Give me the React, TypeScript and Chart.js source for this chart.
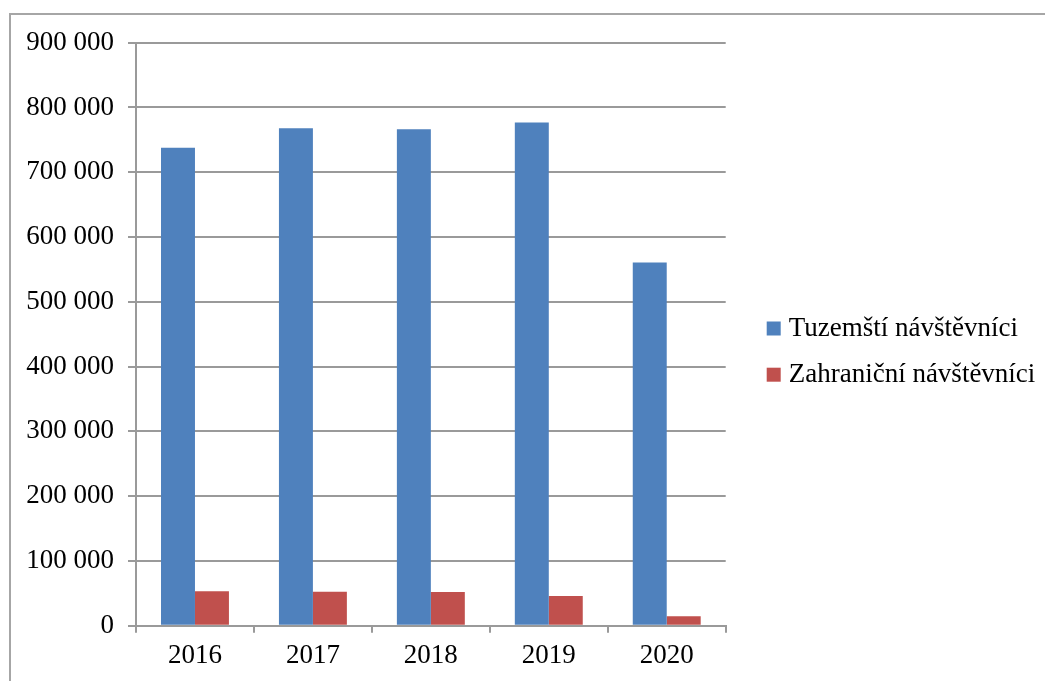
import { useEffect, useRef } from 'react';
import { Chart, registerables } from 'chart.js';

Chart.register(...registerables);

const years = ['2016', '2017', '2018', '2019', '2020'];
const domesticVisitors = [738000, 768000, 766500, 777000, 560500];
const foreignVisitors = [53000, 52500, 52000, 46000, 14500];
const seriesNames = ['Tuzemští návštěvníci', 'Zahraniční návštěvníci'];
const seriesColors = ['#4f81bd', '#c0504d'];
const yMax = 900000;
const yStep = 100000;

const FONT = '"Liberation Serif", "Times New Roman", serif';
const FONT_SIZE = 27;
const GRID = '#9a9a9a';

const fmt = (v: number) => String(v).replace(/\B(?=(\d{3})+(?!\d))/g, ' ');

const sideLegend = {
  id: 'sideLegend',
  afterDraw(chart: any) {
    const { ctx, chartArea } = chart;
    ctx.save();
    ctx.font = `${FONT_SIZE}px ${FONT}`;
    ctx.textBaseline = 'middle';
    ctx.textAlign = 'left';
    chart.data.datasets.forEach((ds: any, i: number) => {
      const cy = 328.5 + i * 46.2;
      const bx = chartArea.right + 41;
      ctx.fillStyle = ds.backgroundColor;
      ctx.fillRect(bx, cy - 7, 14, 14);
      ctx.fillStyle = '#000';
      ctx.fillText(ds.label, bx + 22, cy);
    });
    ctx.restore();
  },
};

export default function App() {
  const ref = useRef<HTMLCanvasElement | null>(null);
  useEffect(() => {
    document.body.style.margin = '0';
    const canvas = ref.current;
    if (!canvas) return;
    const chart = new Chart(canvas, {
      type: 'bar',
      data: {
        labels: years,
        datasets: [
          {
            label: seriesNames[0],
            data: domesticVisitors,
            backgroundColor: seriesColors[0],
            categoryPercentage: 0.576,
            barPercentage: 1,
          },
          {
            label: seriesNames[1],
            data: foreignVisitors,
            backgroundColor: seriesColors[1],
            categoryPercentage: 0.576,
            barPercentage: 1,
          },
        ],
      },
      options: {
        responsive: false,
        animation: false,
        devicePixelRatio: 1,
        layout: { padding: { left: 0, top: 42.7, right: 1045 - 725.7, bottom: 0 } },
        plugins: { legend: { display: false }, tooltip: { enabled: false } },
        scales: {
          x: {
            grid: {
              display: true,
              drawOnChartArea: false,
              drawTicks: true,
              tickLength: 7,
              color: GRID,
              lineWidth: 2,
              offset: true,
            },
            border: { display: true, color: GRID, width: 2 },
            ticks: { font: { family: FONT, size: FONT_SIZE }, color: '#000', padding: 7 },
            afterFit: (s: any) => {
              s.height = 681 - 625.7;
            },
          },
          y: {
            min: 0,
            max: yMax,
            ticks: {
              stepSize: yStep,
              callback: (v: any) => fmt(Number(v)),
              font: { family: FONT, size: FONT_SIZE },
              color: '#000',
              padding: 14,
            },
            grid: { color: GRID, lineWidth: 2, tickLength: 8 },
            border: { display: true, color: GRID, width: 2 },
            afterFit: (s: any) => {
              s.width = 136;
            },
          },
        },
      },
      plugins: [sideLegend],
    } as any);
    return () => chart.destroy();
  }, []);

  return (
    <div style={{ position: 'fixed', left: 0, top: 0, width: 1045, height: 681, overflow: 'hidden', background: '#fff' }}>
      <div
        style={{
          position: 'absolute',
          left: 9,
          top: 13,
          width: 1100,
          height: 720,
          border: '2px solid #a6a6a6',
          boxSizing: 'border-box',
        }}
      />
      <canvas ref={ref} width={1045} height={681} style={{ position: 'absolute', left: 0, top: 0 }} />
    </div>
  );
}
